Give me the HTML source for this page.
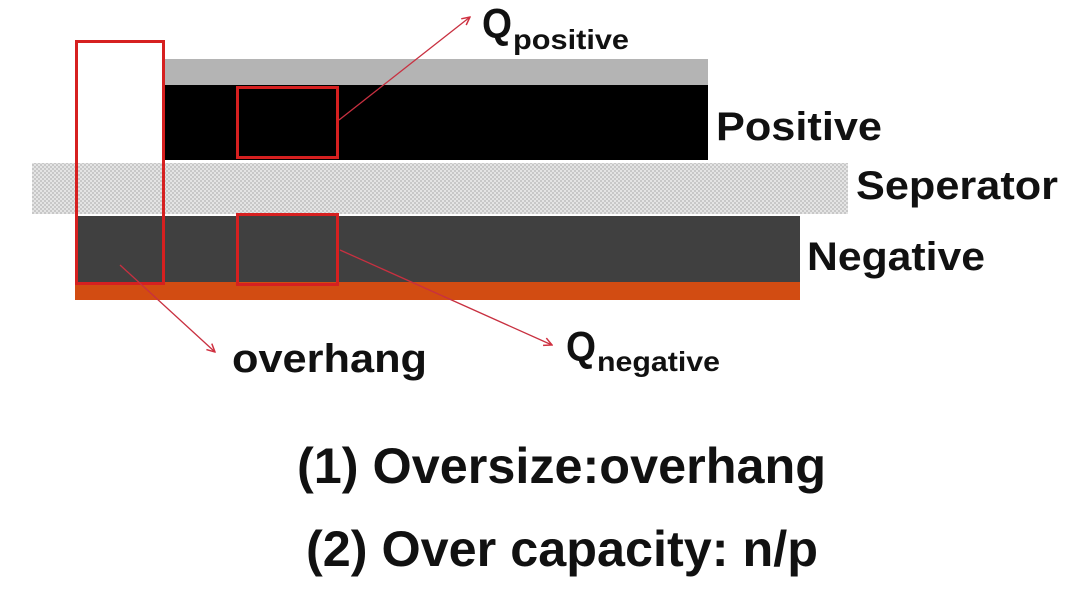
<!DOCTYPE html>
<html><head><meta charset="utf-8"><style>
html,body{margin:0;padding:0;background:#fff;width:1078px;height:596px;overflow:hidden}
text{font-family:"Liberation Sans",Arial,sans-serif;font-weight:bold;fill:#111}
</style></head><body>
<svg width="1078" height="596" viewBox="0 0 1078 596" xmlns="http://www.w3.org/2000/svg">
<defs>
<pattern id="hatch" width="4" height="4" patternUnits="userSpaceOnUse">
<rect width="4" height="4" fill="#e4e4e4"/>
<rect width="2" height="2" fill="#c8c8c8"/>
<rect x="2" y="2" width="2" height="2" fill="#c8c8c8"/>
</pattern>
<marker id="ah" markerWidth="10" markerHeight="10" refX="9" refY="5" orient="auto" markerUnits="userSpaceOnUse">
<path d="M1,1 L9,5 L1,9" fill="none" stroke="#d03040" stroke-width="1.5"/>
</marker>
</defs>
<rect x="165" y="59" width="543" height="26" fill="#b4b4b4"/>
<rect x="165" y="85" width="543" height="75" fill="#000"/>
<rect x="32" y="163" width="816" height="51" fill="url(#hatch)"/>
<rect x="75" y="216" width="725" height="66" fill="#404040"/>
<rect x="75" y="282" width="725" height="18" fill="#d24c12"/>
<rect x="76.5" y="41.5" width="87" height="242" fill="none" stroke="#d62020" stroke-width="3"/>
<rect x="237.5" y="87.5" width="100" height="70" fill="none" stroke="#d62020" stroke-width="3"/>
<rect x="237.5" y="214.5" width="100" height="70" fill="none" stroke="#d62020" stroke-width="3"/>
<line x1="339" y1="120" x2="470" y2="17" stroke="#c83040" stroke-width="1.3" marker-end="url(#ah)"/>
<line x1="340" y1="250" x2="552" y2="345" stroke="#c83040" stroke-width="1.3" marker-end="url(#ah)"/>
<line x1="120" y1="265" x2="215" y2="352" stroke="#c83040" stroke-width="1.3" marker-end="url(#ah)"/>
<text x="482" y="38" font-size="42" textLength="30" lengthAdjust="spacingAndGlyphs">Q</text>
<text x="513" y="49" font-size="28" textLength="116" lengthAdjust="spacingAndGlyphs">positive</text>
<text x="716" y="140" font-size="40" textLength="166" lengthAdjust="spacingAndGlyphs">Positive</text>
<text x="856" y="199" font-size="40" textLength="202" lengthAdjust="spacingAndGlyphs">Seperator</text>
<text x="807" y="270" font-size="40" textLength="178" lengthAdjust="spacingAndGlyphs">Negative</text>
<text x="232" y="372" font-size="40" textLength="195" lengthAdjust="spacingAndGlyphs">overhang</text>
<text x="566" y="361" font-size="42" textLength="30" lengthAdjust="spacingAndGlyphs">Q</text>
<text x="597" y="371" font-size="28" textLength="123" lengthAdjust="spacingAndGlyphs">negative</text>
<text x="297" y="483" font-size="50" textLength="529" lengthAdjust="spacingAndGlyphs">(1) Oversize:overhang</text>
<text x="306" y="566" font-size="50" textLength="512" lengthAdjust="spacingAndGlyphs">(2) Over capacity: n/p</text>
</svg>
</body></html>
